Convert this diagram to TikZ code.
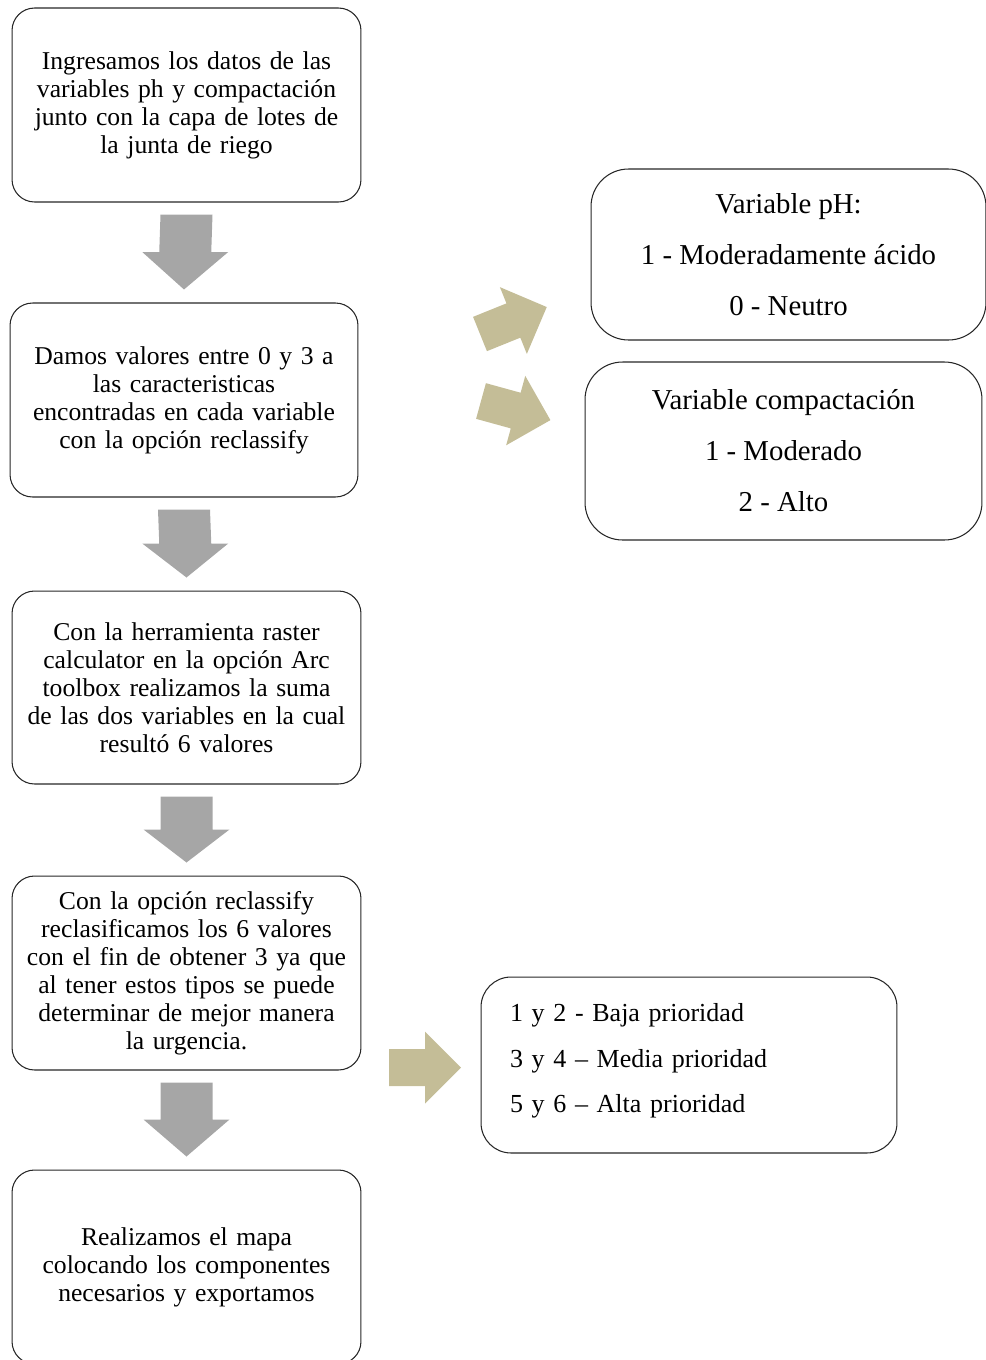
\documentclass[tikz,border=0pt]{standalone}
\usepackage{fontspec}
\setmainfont{Liberation Serif}
\usetikzlibrary{calc}

\definecolor{grisflecha}{RGB}{166,166,166}
\definecolor{cafeflecha}{RGB}{196,189,151}

\tikzset{
  paso/.style={draw=black!85, line width=0.6pt, rounded corners=0.45cm,
    minimum width=6.98cm, minimum height=3.88cm, text width=6.6cm,
    align=center, font=\fontsize{14.6}{15.9}\selectfont},
  varcaja/.style={draw=black!85, line width=0.6pt, rounded corners=0.75cm,
    minimum width=7.92cm, minimum height=3.5cm, align=center,
    font=\fontsize{16.4}{29}\selectfont},
  prioridad/.style={draw=black!85, line width=0.6pt, rounded corners=0.6cm,
    minimum width=8.32cm, minimum height=3.52cm, text width=7.16cm,
    inner xsep=0pt, align=left, font=\fontsize{14.8}{26}\selectfont},
}

% flecha gris entre dos pasos
\newcommand{\flechabaja}[2]{%
  \path ($(#1.south)+(0,12)$) coordinate (ft)
        ($(#2.north)+(0,-13)$) coordinate (fp)
        ($(ft)!0.5!(fp)$) coordinate (fm);
  \fill[grisflecha] ($(ft)+(-26,0)$) -- ($(ft)+(26,0)$) -- ($(fm)+(26,0)$)
    -- ($(fm)+(43,0)$) -- (fp) -- ($(fm)+(-43,0)$) -- ($(fm)+(-26,0)$) -- cycle;
}

% flecha color cafe: cola en #1, angulo #2
\newcommand{\flechacafe}[2]{%
  \fill[cafeflecha, shift={#1}, rotate=#2]
    (0,-18.5) -- (36,-18.5) -- (36,-36) -- (72,0) -- (36,36) -- (36,18.5)
    -- (0,18.5) -- cycle;
}

\begin{document}
\begin{tikzpicture}[x=0.02cm, y=-0.02cm]

  \useasboundingbox (0,0) rectangle (986,1360);

  %----- PASOS -----
  \node[paso] (p1) at (186.5,105)
    {Ingresamos los datos de las\\ variables ph y compactación\\ junto con la capa de lotes de\\ la junta de riego};
  \node[paso, minimum width=6.96cm] (p2) at (184,400)
    {Damos valores entre 0 y 3 a\\ las caracteristicas\\ encontradas en cada variable\\ con la opción reclassify};
  \node[paso, minimum height=3.86cm] (p3) at (186.5,687.5)
    {Con la herramienta raster\\ calculator en la opción Arc\\ toolbox realizamos la suma\\ de las dos variables en la cual\\ resultó 6 valores};
  \node[paso] (p4) at (186.5,973)
    {Con la opción reclassify\\ reclasificamos los 6 valores\\ con el fin de obtener 3 ya que\\ al tener estos tipos se puede\\ determinar de mejor manera\\ la urgencia.};
  \node[paso] (p5) at (186.5,1267)
    {Realizamos el mapa\\ colocando los componentes\\ necesarios y exportamos};

  %----- FLECHAS GRISES -----
  \flechabaja{p1}{p2}
  \flechabaja{p2}{p3}
  \flechabaja{p3}{p4}
  \flechabaja{p4}{p5}

  %----- VARIABLES -----
  \node[varcaja, minimum width=7.9cm, minimum height=3.42cm] (vph) at (788.5,254.5)
    {Variable pH:\\ 1 - Moderadamente ácido\\ 0 - Neutro};
  \node[varcaja, minimum width=7.94cm, minimum height=3.56cm] (vcomp) at (783.5,451)
    {Variable compactación\\ 1 - Moderado\\ 2 - Alto};

  %----- PRIORIDADES -----
  \node[prioridad] (prio) at (689,1065)
    {1 y 2 - Baja prioridad\\ 3 y 4 -- Media prioridad\\ 5 y 6 -- Alta prioridad\rule[-8pt]{0pt}{8pt}};

  %----- FLECHAS CAFE -----
  \flechacafe{(480,334)}{22}
  \flechacafe{(481,401)}{-15.4}
  \flechacafe{(389,1067.5)}{0}

\end{tikzpicture}
\end{document}
